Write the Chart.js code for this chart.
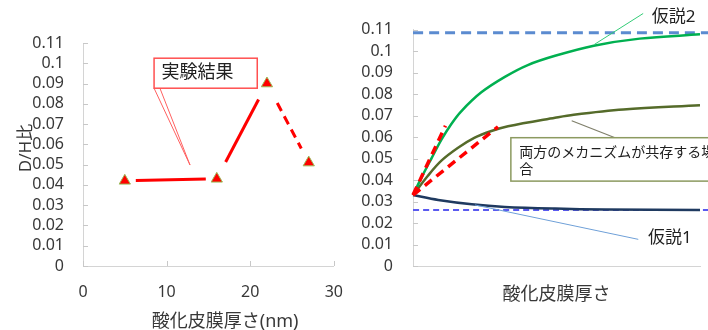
<!DOCTYPE html>
<html>
<head>
<meta charset="utf-8">
<script src="https://cdn.jsdelivr.net/npm/chart.js@4.4.1/dist/chart.umd.min.js"></script>
<style>
body { margin: 0; background: #fff; width: 708px; height: 330px; overflow: hidden; position: relative; }
#wrapL { position: absolute; left: 0; top: 0; width: 360px; height: 330px; }
#wrapR { position: absolute; left: 345px; top: 0; width: 363px; height: 330px; }
</style>
</head>
<body>
<div id="wrapL"><canvas id="leftChart"></canvas></div>
<div id="wrapR"><canvas id="rightChart"></canvas></div>
<script>
// left: measured D/H ratio
const thickness = [5, 16, 22, 27];
const dhRatio = [0.042, 0.043, 0.090, 0.051];
const yTickLabels = ['0', '0.01', '0.02', '0.03', '0.04', '0.05', '0.06', '0.07', '0.08', '0.09', '0.1', '0.11'];
const xTickLabels = ['0', '10', '20', '30'];

// right: hypotheses (x is unitless film thickness)
const hyp2X = [0, 2.9, 6.4, 9.9, 13.3, 16.8, 23.8, 32, 40, 49.5, 63, 79, 100];
const hyp2Y = [0.033, 0.0410, 0.0500, 0.0588, 0.0660, 0.0720, 0.0808, 0.0880, 0.0935, 0.0978, 0.1025, 0.1058, 0.1078];
const bothX = [0, 5.2, 9.9, 15.7, 21.5, 27.3, 33.1, 49.5, 56, 73.3, 100];
const bothY = [0.033, 0.0420, 0.0490, 0.0550, 0.0597, 0.0628, 0.0650, 0.0690, 0.0704, 0.0728, 0.0748];
const hyp1X = [0, 8.8, 20.5, 32, 49.5, 67, 100];
const hyp1Y = [0.033, 0.0307, 0.0287, 0.0275, 0.0267, 0.0263, 0.0261];
const slopeSteepX = [0, 11.3];
const slopeSteepY = [0.033, 0.0653];
const slopeBothX = [0, 29.6];
const slopeBothY = [0.033, 0.0648];
const limitX = [0, 103];
const limitHighY = [0.1085, 0.1085];
const limitLowY = [0.026, 0.026];

const FONT = '"Noto Sans", "Noto Sans CJK JP", sans-serif';
const TEXT = '#383838';
const AXIS = '#d4d4d4';

const pts = (xs, ys) => xs.map((x, i) => ({x: x, y: ys[i]}));

// short tick marks drawn on the inside of the axes
const insideTicks = {
  id: 'insideTicks',
  afterDraw(chart, args, opts) {
    const {ctx, chartArea: a, scales} = chart;
    ctx.save();
    ctx.strokeStyle = '#c8c8c8';
    ctx.lineWidth = 1;
    ctx.beginPath();
    scales.y.ticks.forEach(t => {
      const y = Math.round(scales.y.getPixelForValue(t.value)) + 0.5;
      ctx.moveTo(a.left, y); ctx.lineTo(a.left + 5, y);
    });
    if (opts.x) {
      scales.x.ticks.forEach(t => {
        const x = Math.round(scales.x.getPixelForValue(t.value)) + 0.5;
        ctx.moveTo(x, a.bottom); ctx.lineTo(x, a.bottom - 5);
      });
    }
    ctx.stroke();
    ctx.restore();
  }
};

// callout boxes, pointer lines and labels placed in data coordinates
const callouts = {
  id: 'callouts',
  afterDraw(chart, args, opts) {
    const {ctx, scales: {x, y}} = chart;
    const px = v => x.getPixelForValue(v);
    const py = v => y.getPixelForValue(v);
    ctx.save();
    (opts.items || []).forEach(it => {
      ctx.strokeStyle = it.color;
      ctx.lineWidth = it.width || 1;
      if (it.type === 'line') {
        ctx.beginPath();
        ctx.moveTo(px(it.from[0]), py(it.from[1]));
        ctx.lineTo(px(it.to[0]), py(it.to[1]));
        ctx.stroke();
      } else if (it.type === 'wedge') {
        ctx.beginPath();
        ctx.moveTo(px(it.base[0]), py(it.base[1]));
        ctx.lineTo(px(it.tip[0]), py(it.tip[1]));
        ctx.lineTo(px(it.base[2]), py(it.base[1]));
        ctx.stroke();
      } else if (it.type === 'box') {
        const l = px(it.x0), r = px(it.x1), t = py(it.y0), b = py(it.y1);
        ctx.fillStyle = '#fff';
        ctx.fillRect(l, t, r - l, b - t);
        ctx.strokeRect(l, t, r - l, b - t);
      } else if (it.type === 'text') {
        ctx.fillStyle = it.color;
        ctx.font = it.size + 'px ' + FONT;
        ctx.textAlign = it.align || 'left';
        ctx.textBaseline = 'middle';
        ctx.translate(px(it.x), py(it.y));
        if (it.rotate) ctx.rotate(-Math.PI / 2);
        ctx.fillText(it.text, 0, 0);
        ctx.setTransform(1, 0, 0, 1, 0, 0);
      }
    });
    ctx.restore();
  }
};

// measured points joined by trimmed segments (last one dashed)
const trimmedSegments = {
  id: 'trimmedSegments',
  beforeDatasetsDraw(chart, args, opts) {
    const meta = chart.getDatasetMeta(0);
    const {ctx} = chart;
    ctx.save();
    ctx.strokeStyle = '#ff0000';
    ctx.lineWidth = 3;
    for (let i = 0; i < meta.data.length - 1; i++) {
      const p0 = meta.data[i], p1 = meta.data[i + 1];
      const dx = p1.x - p0.x, dy = p1.y - p0.y;
      const len = Math.hypot(dx, dy);
      const g0 = opts.gapStart[i] / len, g1 = opts.gapEnd[i] / len;
      ctx.setLineDash(i === meta.data.length - 2 ? [9, 6] : []);
      ctx.beginPath();
      ctx.moveTo(p0.x + dx * g0, p0.y + dy * g0);
      ctx.lineTo(p1.x - dx * g1, p1.y - dy * g1);
      ctx.stroke();
    }
    ctx.restore();
  }
};

const yScale = (width, pad) => ({
  type: 'linear',
  min: 0,
  max: 0.11,
  afterFit: s => { s.width = width; },
  ticks: {
    stepSize: 0.01,
    autoSkip: false,
    padding: pad,
    color: TEXT,
    font: {family: FONT, size: 16},
    callback: (v, i) => yTickLabels[i]
  },
  grid: {display: false, drawTicks: false},
  border: {color: AXIS, width: 1}
});

new Chart(document.getElementById('leftChart'), {
  type: 'scatter',
  data: {
    datasets: [{
      data: pts(thickness, dhRatio),
      pointStyle: 'triangle',
      pointRadius: 6.5,
      backgroundColor: '#ff0000',
      borderColor: '#9bbb59',
      borderWidth: 1
    }]
  },
  options: {
    animation: false,
    responsive: true,
    maintainAspectRatio: false,
    layout: {padding: {left: 0, right: 16, top: 43, bottom: 0}},
    plugins: {
      legend: {display: false},
      tooltip: {enabled: false},
      insideTicks: {x: true},
      trimmedSegments: {gapStart: [11, 19, 22], gapEnd: [11, 18, 16]},
      callouts: {
        items: [
          {type: 'wedge', color: '#ff6060', base: [8.5, 0.0877, 9.2], tip: [12.8, 0.0498]},
          {type: 'box', color: '#ff5050', width: 1.5, x0: 8.5, x1: 20.84, y0: 0.1025, y1: 0.0877},
          {type: 'text', color: '#202020', size: 18, text: '実験結果', x: 9.4, y: 0.0952},
          {type: 'text', color: TEXT, size: 18, text: '酸化皮膜厚さ(nm)', x: 17.0, y: -0.0276, align: 'center'},
          {type: 'text', color: TEXT, size: 17, text: 'D/H比', x: -6.8, y: 0.0582, align: 'center', rotate: true}
        ]
      }
    },
    scales: {
      x: {
        type: 'linear',
        min: 0,
        max: 30,
        afterFit: s => { s.height = 64; },
        ticks: {
          stepSize: 10,
          padding: 17,
          color: TEXT,
          font: {family: FONT, size: 16},
          callback: (v, i) => xTickLabels[i]
        },
        grid: {display: false, drawTicks: false},
        border: {color: AXIS, width: 1}
      },
      y: yScale(83, 19)
    }
  },
  plugins: [insideTicks, trimmedSegments, callouts]
});

const lineSet = (data, color, width, dash) => ({
  data: data,
  borderColor: color,
  borderWidth: width,
  borderDash: dash || [],
  pointRadius: 0,
  fill: false,
  tension: 0.35,
  clip: false
});

new Chart(document.getElementById('rightChart'), {
  type: 'line',
  data: {
    datasets: [
      lineSet(pts(slopeSteepX, slopeSteepY), '#ff0000', 3.5, [9, 6]),
      lineSet(pts(slopeBothX, slopeBothY), '#ff0000', 3.5, [9, 6]),
      lineSet(pts(hyp2X, hyp2Y), '#00b050', 2.5),
      lineSet(pts(bothX, bothY), '#556b2a', 2.5),
      lineSet(pts(hyp1X, hyp1Y), '#1f3a60', 2.5),
      lineSet(pts(limitX, limitHighY), '#5b8bd0', 3, [10, 6]),
      lineSet(pts(limitX, limitLowY), '#5a5af0', 2, [6, 4])
    ]
  },
  options: {
    animation: false,
    responsive: true,
    maintainAspectRatio: false,
    layout: {padding: {left: 0, right: 8, top: 29.5, bottom: 0}},
    plugins: {
      legend: {display: false},
      tooltip: {enabled: false},
      insideTicks: {x: false},
      callouts: {
        items: [
          {type: 'line', color: '#33cc77', from: [80.2, 0.1175], to: [63.2, 0.1031]},
          {type: 'text', color: '#202020', size: 17, text: '仮説2', x: 83.2, y: 0.1160},
          {type: 'line', color: '#6fa0d8', from: [78.5, 0.0124], to: [21.6, 0.0284]},
          {type: 'text', color: '#202020', size: 17, text: '仮説1', x: 81.9, y: 0.0128},
          {type: 'line', color: '#7f7f6a', width: 1.2, from: [70.4, 0.0597], to: [55.3, 0.0676]},
          {type: 'box', color: '#8c9a60', width: 1.5, x0: 34.1, x1: 110, y0: 0.0597, y1: 0.0395},
          {type: 'text', color: '#202020', size: 14, text: '両方のメカニズムが共存する場', x: 37.0, y: 0.0527},
          {type: 'text', color: '#202020', size: 14, text: '合', x: 37.0, y: 0.0447}
        ]
      }
    },
    scales: {
      x: {
        type: 'linear',
        min: 0,
        max: 100,
        afterFit: s => { s.height = 64; },
        ticks: {display: false},
        grid: {display: false, drawTicks: false},
        border: {color: AXIS, width: 1},
        title: {
          display: true, text: '酸化皮膜厚さ', color: TEXT,
          font: {family: FONT, size: 18, lineHeight: 1},
          padding: {top: 0, bottom: 26}
        }
      },
      y: yScale(68, 20)
    }
  },
  plugins: [insideTicks, callouts]
});
</script>
</body>
</html>
